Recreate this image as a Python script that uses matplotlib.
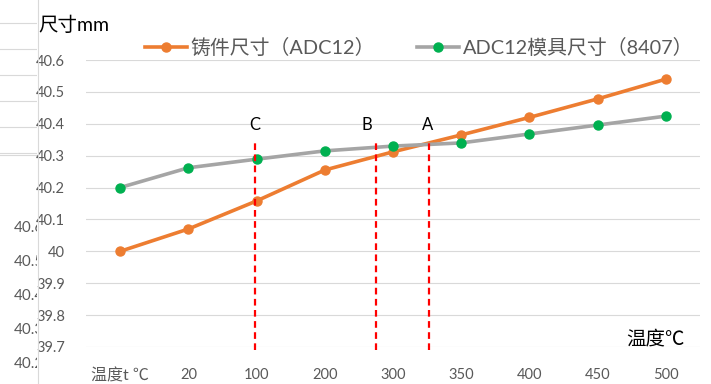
import matplotlib
matplotlib.use("Agg")
import matplotlib.pyplot as plt

plt.rcParams['font.family'] = ['Lato', 'Noto Sans CJK SC', 'DejaVu Sans']

# categories along the x axis
temps = ['温度t ℃', '20', '100', '200', '300', '350', '400', '450', '500']
# casting size (ADC12), mm
casting = [40.00, 40.07, 40.158, 40.255, 40.312, 40.365, 40.42, 40.478, 40.54]
# die size (ADC12 / 8407), mm
die = [40.20, 40.262, 40.289, 40.315, 40.33, 40.34, 40.368, 40.396, 40.424]

# marked positions (category index) and their labels
mark_names = ['C', 'B', 'A']
mark_pos = [1.98, 3.75, 4.53]
mark_top = 40.34

# left-over bits of another chart on the left edge
stray_labels = ['40.6', '40.5', '40.4', '40.3', '40.2']

W, H = 711, 384
fig = plt.figure(figsize=(W / 100, H / 100), dpi=100)

def px(x0, y0, x1, y1):
    return [x0 / W, 1 - y1 / H, (x1 - x0) / W, (y1 - y0) / H]

# stray strip on the left
ax0 = fig.add_axes(px(0, 0, 37, 384))
ax0.set_xlim(0, 37)
ax0.set_ylim(384, 0)
ax0.axis('off')
for y in [23, 49, 75, 101, 127, 153, 155]:
    ax0.plot([0, 37], [y, y], color='#D9D9D9', lw=0.8)
for i, s in enumerate(stray_labels):
    ax0.text(14, 228 + i * 34, s, fontsize=11, color='#595959',
             va='center', ha='left', clip_on=True)
fig.add_artist(plt.Line2D([37.5 / W, 37.5 / W], [0, 1], color='#D9D9D9', lw=0.8))

ax = fig.add_axes(px(86, 60, 700, 347))
x = list(range(len(temps)))
ax.plot(x, casting, color='#ED7D31', lw=2.6, marker='o', ms=6.5,
        label='铸件尺寸（ADC12）', zorder=3)
ax.plot(x, die, color='#A5A5A5', lw=2.6, marker='o', ms=6.5,
        mfc='#00B050', mec='#00B050', label='ADC12模具尺寸（8407）', zorder=3)

for name, p in zip(mark_names, mark_pos):
    ax.plot([p, p], [39.69, mark_top], color='#FF0000', lw=1.6,
            ls=(0, (3, 2)), clip_on=False, zorder=4)
ax.text(mark_pos[0], 40.395, mark_names[0], ha='center', va='center', fontsize=12)
ax.text(mark_pos[1] - 0.13, 40.395, mark_names[1], ha='center', va='center', fontsize=12)
ax.text(mark_pos[2] - 0.02, 40.395, mark_names[2], ha='center', va='center', fontsize=12)

ax.set_xlim(-0.5, len(temps) - 0.5)
ax.set_ylim(39.7, 40.6)
ax.set_yticks([39.7 + 0.1 * i for i in range(10)])
ax.set_yticklabels(['39.7', '39.8', '39.9', '40', '40.1', '40.2', '40.3',
                    '40.4', '40.5', '40.6'])
ax.set_xticks(x)
ax.set_xticklabels(temps)
ax.tick_params(length=0, labelsize=10.5, labelcolor='#595959')
ax.tick_params(axis='y', pad=15)
ax.tick_params(axis='x', pad=15)
ax.get_xticklabels()[0].set_fontsize(11.5)
ax.grid(axis='y', color='#D9D9D9', lw=0.8)
ax.set_axisbelow(True)
for s in ax.spines.values():
    s.set_visible(False)

fig.text(38 / W, 1 - 25 / H, '尺寸mm', fontsize=14, va='center', ha='left')
fig.text(685 / W, 1 - 338 / H, '温度℃', fontsize=14, va='center', ha='right')

fig.legend(loc='center', bbox_to_anchor=(419 / W, 1 - 47 / H), ncol=2,
           frameon=False, fontsize=14.3, labelcolor='#595959',
           handlelength=2.1, handletextpad=0.2, columnspacing=2.1)

fig.savefig('out.png', dpi=100)
